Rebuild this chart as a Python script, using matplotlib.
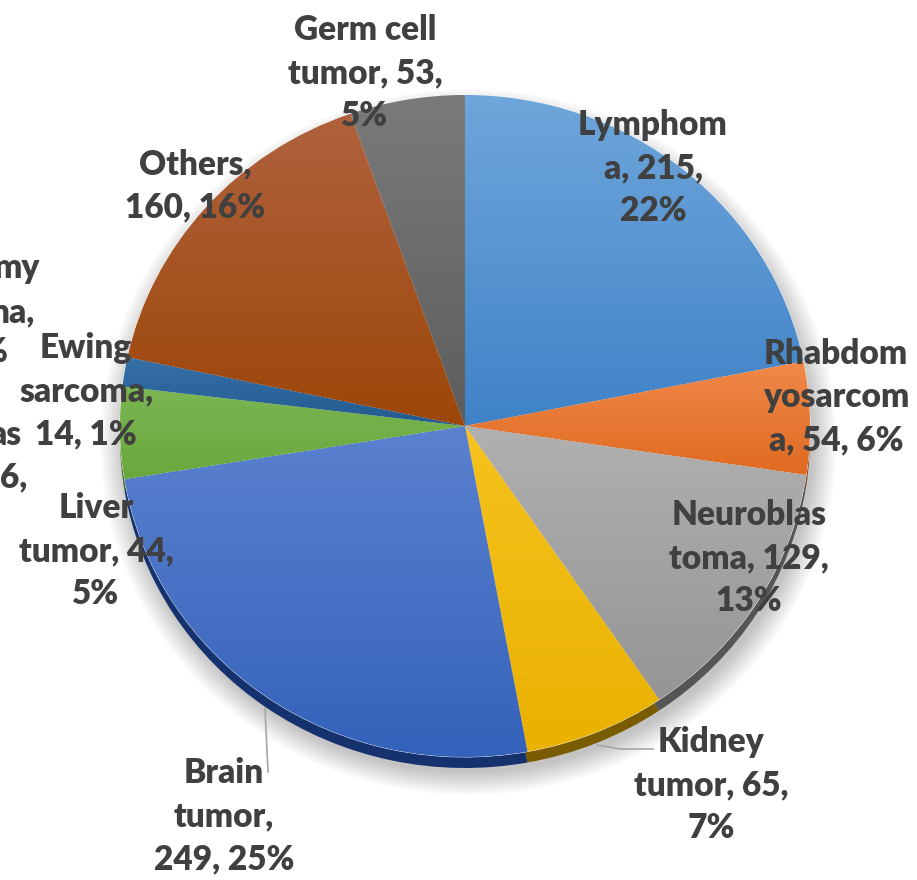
import numpy as np
import matplotlib.pyplot as plt
from matplotlib.colors import to_rgb

plt.rcParams['font.family'] = ['Lato', 'DejaVu Sans']

# data, clockwise from 12 o'clock
names = ["Lymphom\na", "Rhabdom\nyosarcom\na", "Neuroblas\ntoma", "Kidney\ntumor",
         "Brain\ntumor,\n", "Liver\ntumor", "Ewing\nsarcoma,\n", "Others,\n", "Germ cell\ntumor"]
values = [215, 54, 129, 65, 249, 44, 14, 160, 53]
pct_labels = ["22%", "6%", "13%", "7%", "25%", "5%", "1%", "16%", "5%"]
top_cols = ["#6fa6db", "#f0894b", "#b0b0b0", "#f6c21e", "#5b81cf", "#7bb653", "#3771a9", "#b0623e", "#7a7a7a"]
bot_cols = ["#3f82c7", "#e06a20", "#959595", "#e9b100", "#3462ba", "#69a83c", "#225a8e", "#9c4608", "#5d5d5d"]
side_cols = ["#1f4a78", "#8a3e10", "#555555", "#7a5c00", "#16326e", "#3d6322", "#143557", "#5a2806", "#333333"]

# label text positions in pixels (centre of block)
label_pos = [(653, 168), (836, 397), (749, 558), (711, 785), (224, 816),
             (96, 551), (86, 391), (195, 186), (365, 73)]

W, H = 917, 880
cx, cy = 465, 426          # pie centre, px from top-left
rx, ry = 345, 331          # pie radii, px
depth = 11

fig = plt.figure(figsize=(W / 100, H / 100), dpi=100)
ax = fig.add_axes([0, 0, 1, 1])

# soft shadow
for i in range(12):
    ax.pie(values, startangle=90, counterclock=False, radius=1.0 + 0.006 * i,
           center=(0.01, -depth / ry - 0.015), colors=["#000000"] * len(values),
           wedgeprops=dict(alpha=0.018, linewidth=0))

# side (depth) of the pie
ax.pie(values, startangle=90, counterclock=False, radius=1.0,
       center=(0, -depth / ry), colors=side_cols, wedgeprops=dict(linewidth=0))

wedges, _ = ax.pie(values, startangle=90, counterclock=False, radius=1.0,
                   colors=bot_cols, wedgeprops=dict(edgecolor="#ffffff", linewidth=0.6))

# vertical gradient on each slice
for w, ct, cb in zip(wedges, top_cols, bot_cols):
    ext = w.get_path().get_extents()
    t = np.linspace(0, 1, 128)[:, None]
    grad = (1 - t) * np.array(to_rgb(ct)) + t * np.array(to_rgb(cb))
    img = np.repeat(grad[:, None, :], 2, axis=1)
    im = ax.imshow(img, extent=(ext.x0, ext.x1, ext.y0, ext.y1), origin="upper",
                   aspect="auto", zorder=w.get_zorder(), interpolation="bilinear")
    im.set_clip_path(w)

ax.set_aspect("auto")
ax.set_xlim(-cx / rx, (W - cx) / rx)
ax.set_ylim(-(H - cy) / ry, cy / ry)
ax.axis("off")

lab = dict(fontsize=24, fontweight="heavy", color="#404040")

# data labels
for n, v, p, (px, py) in zip(names, values, pct_labels, label_pos):
    if n.endswith("\n"):
        txt = f"{n}{v}, {p}"
    elif n.startswith("Rhabdom"):
        txt = f"{n}, {v}, {p}"
    else:
        txt = f"{n}, {v},\n{p}"
    fig.text(px / W, 1 - py / H, txt, ha="center", va="center", ma="center",
             linespacing=1.42, zorder=10, **lab)

# leader lines (brain, kidney)
ax.plot([(265 - cx) / rx, (268 - cx) / rx], [(cy - 708) / ry, (cy - 772) / ry],
        color="#a6a6a6", lw=1.2, zorder=9)
ax.plot([(597 - cx) / rx, (620 - cx) / rx, (653 - cx) / rx],
        [(cy - 745) / ry, (cy - 749) / ry, (cy - 749) / ry],
        color="#a6a6a6", lw=1.2, zorder=9)

# labels of a neighbouring chart, cut off at the left edge as in the source
for s, (rxp, py) in zip(["my", "na,", "%", "as", "6,"],
                        [(40, 268), (35, 312), (8, 352), (21, 435), (27, 477)]):
    fig.text(rxp / W, 1 - py / H, s, ha="right", va="center", **lab)

fig.savefig("out.png", dpi=100)
